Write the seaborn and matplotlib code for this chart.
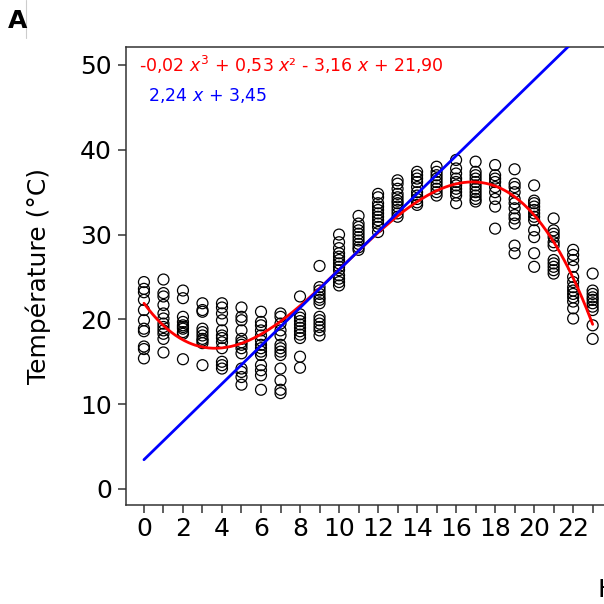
import numpy as np
import pandas as pd
import matplotlib
matplotlib.use("Agg")
import matplotlib.pyplot as plt
from matplotlib.lines import Line2D
import seaborn as sns

# temperature readings per hour
temps_by_hour = {
    0: [24.4, 23.6, 23.2, 22.3, 21.1, 19.9, 18.9, 18.6, 16.8, 16.5, 15.4],
    1: [24.7, 23.1, 22.7, 21.7, 20.7, 20.1, 19.5, 19.1, 18.7, 18.3, 17.7, 16.1],
    2: [23.4, 22.5, 20.3, 19.7, 19.3, 19.1, 18.9, 18.5, 18.3, 15.3],
    3: [21.9, 21.1, 20.9, 18.9, 18.5, 18.1, 17.7, 17.5, 17.2, 14.6],
    4: [21.9, 21.4, 20.7, 19.9, 18.7, 18.1, 17.8, 17.3, 16.6, 15.0, 14.6, 14.2],
    5: [21.4, 20.3, 19.9, 18.7, 17.7, 17.3, 17.0, 16.6, 16.0, 14.2, 13.8, 13.2, 12.3],
    6: [20.9, 19.7, 19.3, 18.7, 18.1, 17.5, 17.0, 16.6, 16.2, 15.8, 14.6, 14.0, 13.4, 11.7],
    7: [20.7, 20.3, 19.5, 18.7, 18.1, 17.0, 16.6, 16.2, 15.8, 14.2, 12.8, 11.7, 11.3],
    8: [22.7, 20.6, 20.2, 19.8, 19.4, 19.0, 18.6, 18.2, 17.8, 15.6, 14.3],
    9: [26.3, 23.8, 23.4, 23.0, 22.6, 22.3, 21.9, 20.3, 19.9, 19.5, 19.1, 18.7, 18.1],
    10: [30.0, 29.1, 28.4, 27.8, 27.4, 27.0, 26.6, 26.2, 25.8, 25.2, 24.8, 24.4, 24.0],
    11: [32.2, 31.3, 30.9, 30.5, 30.1, 29.7, 29.3, 28.9, 28.5, 28.2],
    12: [34.8, 34.4, 33.7, 33.3, 32.9, 32.5, 32.1, 31.7, 31.3, 30.9, 30.3],
    13: [36.4, 36.0, 35.4, 34.8, 34.4, 34.0, 33.7, 33.3, 32.9, 32.5, 32.1],
    14: [37.4, 37.0, 36.6, 36.2, 35.6, 35.0, 34.6, 34.2, 33.8, 33.5],
    15: [38.0, 37.4, 37.0, 36.6, 36.2, 35.8, 35.4, 35.0, 34.6],
    16: [38.8, 37.8, 37.2, 36.6, 36.2, 35.8, 35.4, 35.0, 34.6, 33.7],
    17: [38.6, 37.4, 37.0, 36.6, 36.2, 35.8, 35.4, 35.0, 34.6, 34.2, 33.9],
    18: [38.2, 37.0, 36.6, 36.2, 35.6, 35.0, 34.2, 33.3, 30.7],
    19: [37.7, 36.0, 35.6, 35.0, 34.2, 33.7, 33.1, 32.3, 31.9, 31.3, 28.7, 27.8],
    20: [35.8, 34.0, 33.7, 33.3, 32.9, 32.5, 32.1, 31.7, 30.5, 29.7, 27.8, 26.2],
    21: [31.9, 30.5, 30.1, 29.7, 29.1, 28.7, 27.0, 26.6, 26.2, 25.8, 25.4],
    22: [28.2, 27.6, 27.0, 26.2, 25.0, 24.4, 23.8, 23.4, 23.0, 22.6, 22.1, 21.3, 20.1],
    23: [25.4, 23.4, 23.0, 22.6, 22.3, 21.9, 21.5, 21.1, 19.3, 17.7],
}

# fitted models (unrounded coefficients, highest degree first)
cubic_coefs = [-0.01706, 0.5242, -3.140, 21.90]
linear_coefs = [2.24, 3.45]
cubic_label = "-0,02 $x^3$ + 0,53 $x$² - 3,16 $x$ + 21,90"
linear_label = "2,24 $x$ + 3,45"

hours = list(range(24))
yticks = [0, 10, 20, 30, 40, 50]
xticks = list(range(0, 23, 2))

df = pd.DataFrame(
    [(h, t) for h, vals in temps_by_hour.items() for t in vals],
    columns=["Heure", "Temperature"],
)

sns.set_style("ticks")
plt.rcParams["font.family"] = ["DejaVu Sans"]
plt.rcParams["mathtext.fontset"] = "dejavusans"
plt.rcParams["text.color"] = "black"
plt.rcParams["axes.labelcolor"] = "black"

fig = plt.figure(figsize=(6.04, 6.04), dpi=100)
ax = fig.add_axes([126 / 604, 99 / 604, 484.6 / 604, 458 / 604])

sns.scatterplot(data=df, x="Heure", y="Temperature", ax=ax, marker="o",
                s=62, facecolor="none", edgecolor="black", linewidth=0.9,
                zorder=2)

xs = np.linspace(0, 23, 300)
fits = pd.DataFrame({
    "x": np.concatenate([xs, xs]),
    "y": np.concatenate([np.polyval(cubic_coefs, xs), np.polyval(linear_coefs, xs)]),
    "model": ["cubic"] * len(xs) + ["linear"] * len(xs),
})
sns.lineplot(data=fits, x="x", y="y", hue="model",
             palette={"cubic": "#ff0000", "linear": "#0000ff"},
             linewidth=2.0, legend=False, ax=ax, zorder=3)

ax.set_xlim(-0.92, 23.92)
ax.set_ylim(-1.89, 52.12)
ax.set_xticks(hours)
ax.set_xticklabels([str(h) if h in xticks else "" for h in hours])
ax.set_yticks(yticks)
ax.tick_params(labelsize=18, length=6, width=1.1, color="#333333",
               labelcolor="black", pad=4)
ax.tick_params(axis="x", pad=3)
for sp in ax.spines.values():
    sp.set_color("#333333")
    sp.set_linewidth(1.1)

ax.set_ylabel("Température (°C)", fontsize=18, labelpad=21)
ax.set_xlabel("Heure", fontsize=18)
ax.xaxis.set_label_coords(1.05, -0.16)

ax.text(0.026, 0.96, cubic_label, transform=ax.transAxes, color="#ff0000",
        fontsize=12.5, va="center", ha="left")
ax.text(0.045, 0.895, linear_label, transform=ax.transAxes, color="#0000ff",
        fontsize=12.5, va="center", ha="left")

fig.text(8 / 604, 1 - 21 / 604, "A", fontsize=18, fontweight="bold",
         va="center", ha="left")
fig.add_artist(Line2D([26 / 604, 26 / 604], [1, 1 - 38 / 604],
                      color="#cccccc", linewidth=0.8))

fig.savefig("out.png", dpi=100)
